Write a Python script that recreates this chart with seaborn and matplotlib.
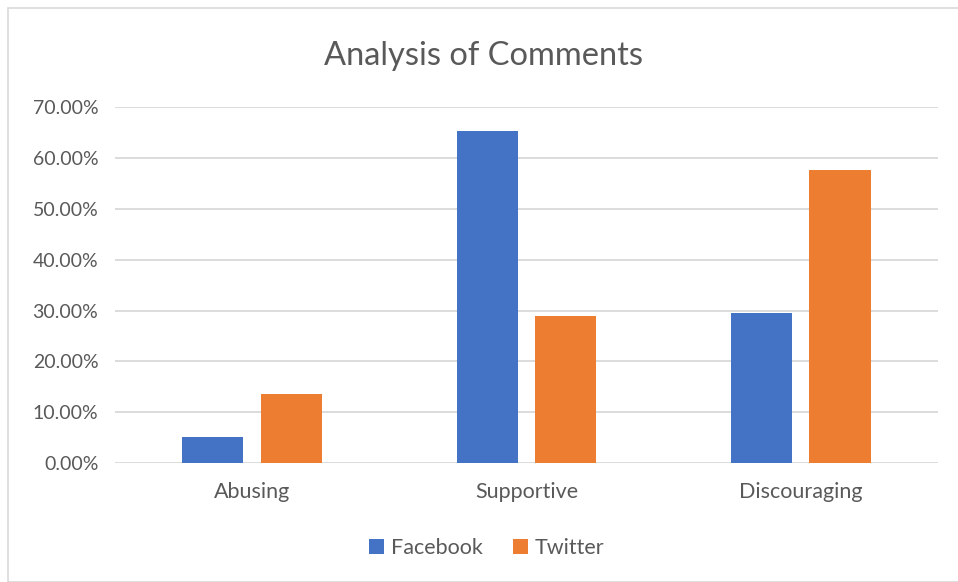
import matplotlib
matplotlib.use("Agg")
import matplotlib.pyplot as plt
import seaborn as sns
import pandas as pd
from matplotlib.ticker import FuncFormatter, MultipleLocator
from matplotlib.patches import Rectangle

categories = ["Abusing", "Supportive", "Discouraging"]
facebook = [0.052, 0.653, 0.295]
twitter = [0.136, 0.289, 0.577]
series = ["Facebook", "Twitter"]
colors = ["#4472C4", "#ED7D31"]

df = pd.DataFrame({
    "Category": categories * 2,
    "Value": facebook + twitter,
    "Platform": [series[0]] * 3 + [series[1]] * 3,
})

sns.set_theme(style="white")
plt.rcParams["font.family"] = ["Lato", "DejaVu Sans"]
text_color = "#595959"

fig = plt.figure(figsize=(9.58, 5.82), dpi=100)
ax = fig.add_axes([0.120, 0.2045, 0.859, 0.6108])

sns.barplot(data=df, x="Category", y="Value", hue="Platform", order=categories,
            hue_order=series, palette=colors, width=0.573, gap=0.223,
            saturation=1, ax=ax, legend=True, linewidth=0)

ax.set_ylim(0, 0.70)
ax.set_xlim(-0.5, 2.5)
ax.yaxis.set_major_locator(MultipleLocator(0.10))
ax.yaxis.set_major_formatter(FuncFormatter(lambda v, p: f"{v*100:.2f}%"))
ax.grid(axis="y", color="#D9D9D9", linewidth=1.3)
ax.set_axisbelow(True)
for s in ax.spines.values():
    s.set_visible(False)
ax.tick_params(axis="both", length=0, colors=text_color)
ax.tick_params(axis="x", labelsize=15.5, pad=14)
ax.tick_params(axis="y", labelsize=14, pad=12)
ax.set_xlabel("")
ax.set_ylabel("")

fig.text(0.505, 0.903, "Analysis of Comments", ha="center", va="center",
         fontsize=23.5, color=text_color)

handles, labels = ax.get_legend_handles_labels()
ax.get_legend().remove()
fig.legend(handles, labels, loc="center", bbox_to_anchor=(0.508, 0.058), ncol=2,
           frameon=False, fontsize=15.5, handlelength=0.7, handleheight=0.7,
           handletextpad=0.3, columnspacing=1.4, labelcolor=text_color)

fig.patches.append(Rectangle((8/958, 0), 1.2, 1 - 8/582, transform=fig.transFigure,
                             fill=False, edgecolor="#D9D9D9", linewidth=1.2))

fig.savefig("out.png", dpi=100, facecolor="white")
